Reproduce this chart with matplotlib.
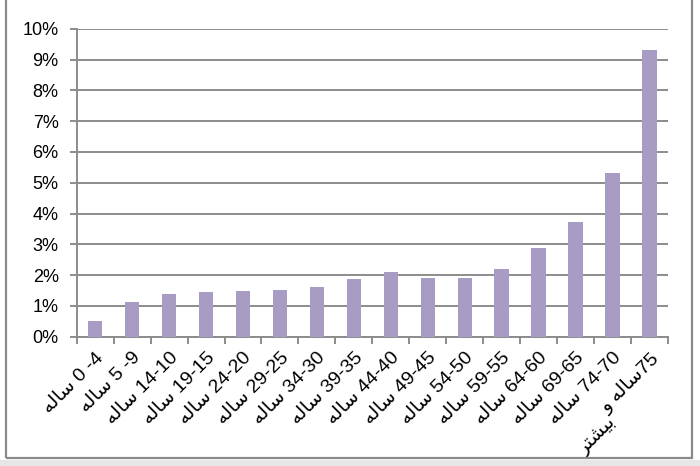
import numpy as np
import matplotlib.pyplot as plt
from matplotlib.patches import Rectangle

# "ساله" / "بیشتر" / "و" in Arabic presentation forms, visual order
SALEH = "\uFEEA\uFEDF\uFE8E\uFEB3"
BISHTAR = "\uFEAE\uFE98\uFEB8\uFEF4\uFE91"
VAV = "\uFEED"

ranges = ["0 -4", "5 -9", "14-10", "19-15", "24-20", "29-25", "34-30", "39-35",
          "44-40", "49-45", "54-50", "59-55", "64-60", "69-65", "74-70"]
labels = [SALEH + " " + r for r in ranges] + [VAV + " " + SALEH + "75"]
last_line2 = BISHTAR
values = [0.52, 1.13, 1.38, 1.46, 1.50, 1.52, 1.60, 1.87,
          2.10, 1.91, 1.91, 2.21, 2.87, 3.71, 5.30, 9.30]
yticks = list(range(0, 11))

bar_color = "#A89BC4"
grid_color = "#8C8C8C"
fonts = ["Liberation Sans", "DejaVu Sans"]
xfs = 14

fig = plt.figure(figsize=(7, 4.66), dpi=100)
fig.patches.append(Rectangle((0, 0), 1, 6 / 466, transform=fig.transFigure,
                             facecolor="#E6E6E6", edgecolor="none", zorder=0))
fig.patches.append(Rectangle((6 / 700, 8 / 466), 686 / 700, 470 / 466,
                             transform=fig.transFigure, facecolor="none",
                             edgecolor="#8A8A8A", linewidth=1.6, zorder=1))

ax = fig.add_axes([76.7 / 700, 1 - 336.7 / 466, (668 - 76.7) / 700, (336.7 - 28.7) / 466])
x = list(range(len(values)))
ax.bar(x, values, width=0.39, color=bar_color, zorder=3)

ax.set_xlim(-0.5, len(values) - 0.5)
ax.set_ylim(0, 10)
ax.set_yticks(yticks)
ax.set_yticklabels([f"{v}%" for v in yticks], family=fonts, fontsize=13)
ax.yaxis.grid(True, color=grid_color, linewidth=1.4, zorder=1)
ax.set_axisbelow(True)

pad = 9
ax.set_xticks(x)
ax.set_xticklabels(labels, family=fonts, fontsize=xfs, rotation=45,
                   ha="right", rotation_mode="anchor")
ax.set_xticks([i - 0.5 for i in range(len(values) + 1)], minor=True)
ax.tick_params(axis="x", which="major", length=0, pad=pad)
ax.tick_params(axis="x", which="minor", length=5, width=1.4, color=grid_color)
ax.tick_params(axis="y", length=5, width=1.4, color=grid_color, pad=8)

for s in ["top", "right"]:
    ax.spines[s].set_visible(False)
for s in ["left", "bottom"]:
    ax.spines[s].set_color(grid_color)
    ax.spines[s].set_linewidth(1.4)

# second line of the last label sits before the first line along the slant
fig.canvas.draw()
renderer = fig.canvas.get_renderer()
tmp = fig.text(0, 0, labels[-1], family=fonts, fontsize=xfs)
w = tmp.get_window_extent(renderer).width
tmp.remove()
x0, y0 = ax.transData.transform((len(values) - 1, 0))
y0 -= pad * fig.dpi / 72
lh = xfs * 0.9 * fig.dpi / 72
c = np.cos(np.pi / 4)
ax.annotate(last_line2, xy=(x0 - w * c + lh * c, y0 - w * c - lh * c),
            xycoords="figure pixels", family=fonts, fontsize=xfs,
            rotation=45, rotation_mode="anchor", ha="right", va="top")

plt.savefig("out.png", dpi=100)
